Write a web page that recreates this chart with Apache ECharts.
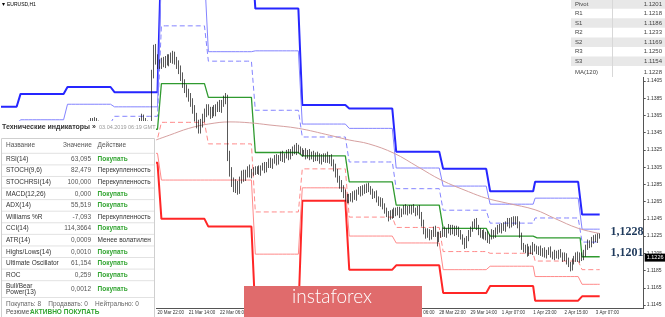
<!DOCTYPE html>
<html><head><meta charset="utf-8">
<script src="https://cdn.jsdelivr.net/npm/echarts@6.0.0/dist/echarts.min.js"></script>
<style>html,body{margin:0;padding:0;background:#fff;overflow:hidden}#c{width:665px;height:317px}</style>
</head><body><div id="c"></div>
<script>
// ---- hourly bars (server time) ----
const days = [['15 Mar',14,23],['18 Mar',0,23],['19 Mar',0,23],['20 Mar',0,23],['21 Mar',0,23],['22 Mar',0,23],
  ['25 Mar',0,23],['26 Mar',0,23],['27 Mar',0,23],['28 Mar',0,23],['29 Mar',0,23],['1 Apr',1,23],['2 Apr',0,23],['3 Apr',0,9]];
const totalSlots = 329;
const xTickLabels = ['20 Mar 22:00','21 Mar 14:00','22 Mar 06:00','22 Mar 22:00','25 Mar 14:00','26 Mar 06:00','26 Mar 22:00',
  '27 Mar 14:00','28 Mar 06:00','28 Mar 22:00','29 Mar 14:00','1 Apr 07:00','1 Apr 23:00','2 Apr 15:00','3 Apr 07:00'];
const yTicks = [1.1145,1.1165,1.1185,1.1205,1.1225,1.1245,1.1265,1.1285,1.1305,1.1325,1.1345,1.1365,1.1385,1.1405];

// ---- daily pivot levels (pips above 1.1000), one value per day ----
const R3 = [375,390,398,392,560,560,489,377,373,323,303,277,288,250];
const R2 = [355,360,378,375,530,439,440,355,350,304,283,262,269,233];
const R1 = [348,352,356,364,469,428,371,340,311,280,255,240,246,218];
const PP = [340,342,343,349,402,386,322,318,288,261,234,225,223,201];
const S1 = [330,332,326,338,357,332,253,303,247,235,207,205,196,186];
const S2 = [318,320,308,321,290,290,204,281,225,217,186,190,178,169];
const S3 = [305,310,291,310,245,236,135,266,186,191,159,167,150,155];
// MA(120): [bar index, pips]
const maPoints = [[76,334],[86,342],[96,350],[106,355],[117,357.5],[127,356.5],[137,354],[152,350],[168,342],[178,336.5],
  [188,332],[201,321],[213,305.5],[225,290],[239,276.5],[248,269],[259,263],[273,255.5],[283,245.5],[295,234],[306,228]];

// ---- candles (pips above 1.1000); first bar index candleStart, open of each bar = previous close ----
const candleStart = 44, open0 = 353;
const closes = [
 354,356,358,357,359,356,355,353,352,350,349,348,350,351,
 348,345,349,346,342,345,340,343,347,344,349,352,355,358,362,359,356,353,351,
 412,440,430,426,424,
 428,425,431,427,433,430,435,429,424,418,410,402,396,391,386,380,372,363,355,349,356,362,368,374,
 370,366,371,369,374,377,373,379,383,386,318,300,288,281,285,279,290,296,293,298,302,297,299,302,
 300,303,299,304,306,302,308,311,307,312,315,311,316,319,314,318,321,317,322,326,323,327,324,325,
 321,323,318,322,317,320,315,319,316,312,317,314,318,313,316,310,304,298,291,285,280,274,270,267,
 271,268,274,270,276,279,275,281,278,283,280,276,272,274,268,263,266,259,255,250,247,252,249,255,
 252,256,250,254,258,253,257,254,258,255,252,256,249,240,231,226,230,224,228,233,227,222,226,228,
 232,227,231,235,230,234,229,233,228,224,219,215,222,228,233,238,242,235,230,226,229,224,227,220,
 224,229,226,231,235,232,237,234,239,242,238,244,241,245,238,226,213,209,212,206,210,207,215,
 211,207,210,205,208,203,206,209,204,201,205,202,206,203,199,202,196,192,189,195,199,203,198,203,
 200,205,212,217,215,220,223,221,225,226];
const upWick = [
 3,3,4,4,4,3,3,3,3,3,3,3,3,3,
 3,3,3,3,3,3,3,3,3,3,3,3,3,4,5,4,3,3,3,
 6,7,8,6,4,
 4,5,3,5,3,5,5,4,4,5,5,5,5,5,5,5,5,5,5,5,5,5,5,4,
 4,5,4,6,4,4,6,4,5,5,3,6,5,5,6,4,4,5,6,4,4,6,4,3,
 4,3,4,3,4,5,3,4,5,3,4,5,3,4,5,3,4,5,4,3,5,6,4,4,
 2,2,4,3,4,3,4,3,4,5,3,4,3,5,3,4,4,5,5,4,5,4,5,4,
 3,4,3,4,3,3,4,3,4,3,4,3,4,3,4,3,4,3,4,3,4,3,4,3,
 3,3,3,3,3,4,3,4,3,4,3,4,5,4,4,3,4,3,4,3,4,3,4,3,
 3,4,3,4,3,4,3,4,3,4,3,4,3,4,3,4,3,4,3,4,3,4,3,4,
 3,4,3,4,3,4,3,4,3,4,4,3,4,3,3,4,3,4,3,4,3,4,3,
 1,3,3,4,3,4,3,3,4,3,4,3,3,4,3,4,3,4,3,4,3,3,4,3,
 3,4,3,4,3,4,3,4,3,2];
const downWick = [
 3,3,3,3,3,3,3,3,3,3,3,3,3,3,
 3,3,3,3,3,3,5,3,3,3,3,3,3,3,3,3,3,3,3,
 3,4,6,7,5,
 5,4,5,4,5,4,5,5,5,5,5,5,5,5,5,5,5,5,5,5,5,5,5,5,
 5,5,4,5,5,5,4,5,4,5,6,6,6,5,6,6,5,4,5,4,5,4,5,4,
 4,3,3,4,3,4,3,4,3,4,3,4,3,4,3,4,3,4,3,4,3,4,3,4,
 4,3,4,3,4,3,4,3,4,3,4,3,4,3,4,4,4,5,4,5,4,5,5,4,
 4,3,4,3,4,3,4,3,4,3,4,3,4,3,4,3,4,3,4,3,5,3,4,3,
 4,3,4,3,4,3,4,3,4,3,4,3,4,4,4,4,3,4,3,4,3,9,4,3,
 4,3,4,3,4,3,4,3,4,3,4,5,4,3,4,3,4,3,4,3,4,3,4,3,
 4,3,4,3,4,3,4,3,4,3,4,3,4,3,4,3,4,3,4,5,4,3,4,
 4,3,4,3,4,3,4,3,4,3,4,3,4,3,4,3,4,3,5,4,3,4,3,4,
 4,3,4,3,4,3,4,3,4,3];
const lastPrice = '1.1226';

// ---- tables ----
const pivotNames = ['Pivot','R1','S1','R2','S2','R3','S3','MA(120)'];
const pivotValues = ['1.1201','1.1218','1.1186','1.1233','1.1169','1.1250','1.1154','1.1228'];
const indNames = ['RSI(14)','STOCH(9,6)','STOCHRSI(14)','MACD(12,26)','ADX(14)','Williams %R','CCI(14)','ATR(14)',
  'Highs/Lows(14)','Ultimate Oscillator','ROC','Bull/Bear\nPower(13)'];
const indValues = ['63,095','82,479','100,000','0,000','55,519','-7,093','114,3664','0,0009','0,0010','61,154','0,259','0,0012'];
const indActions = ['Покупать','Перекупленность','Перекупленность','Покупать','Покупать','Перекупленность','Покупать',
  'Менее волатилен','Покупать','Покупать','Покупать','Покупать'];

// ---- build ----
const cats = [], dayStart = [], dayLen = [];
days.forEach(([d,h0,h1]) => { dayStart.push(cats.length); dayLen.push(h1-h0+1);
  for (let h=h0; h<=h1; h++) cats.push(d+' '+String(h).padStart(2,'0')+':00'); });
while (cats.length < totalSlots) cats.push('#'+cats.length);
const px = v => 1.1 + v/10000;

const candle = new Array(totalSlots).fill('-');
let prev = open0;
closes.forEach((c,k) => { const o = prev; const hi = Math.max(o,c)+upWick[k], lo = Math.min(o,c)-downWick[k];
  candle[candleStart+k] = [px(o),px(c),px(lo),px(hi)]; prev = c; });

function expand(lv){ const a = new Array(totalSlots).fill(null);
  for (let d=0; d<days.length; d++) for (let i=dayStart[d]; i<dayStart[d]+dayLen[d]; i++) a[i] = px(lv[d]); return a; }
function lvl(name, lv, color, width, dashed){
  return {name, type:'line', data:expand(lv), symbol:'none', z:2, silent:true,
    lineStyle:{color, width, type: dashed ? [5,3] : 'solid'}};
}
const bigLabel = {show:true, position:'inside', color:'#1f3a5c', fontFamily:'"Liberation Serif", serif', fontWeight:'bold', fontSize:12};
const series = [
  lvl('R3',R3,'#2626ff',2), lvl('R2',R2,'#8383ff',1), lvl('R1',R1,'#8383ff',1,true),
  lvl('S3',S3,'#ff2626',2), lvl('S2',S2,'#ff8a8a',1), lvl('S1',S1,'#ff8a8a',1,true),
  Object.assign(lvl('Pivot',PP,'#2f9a2f',1.3), {markPoint:{symbol:'circle', symbolSize:1, silent:true,
    itemStyle:{color:'rgba(0,0,0,0)'},
    data:[{coord:[cats[320], parseFloat(pivotValues[0])]}],
    label:Object.assign({offset:[0,-4], formatter:pivotValues[0].replace('.',',')}, bigLabel)}}),
  {name:'MA', type:'line', smooth:0.4, symbol:'none', z:2, silent:true, data:maPoints.map(p=>[cats[p[0]], px(p[1])]),
    lineStyle:{color:'#d6a0a0', width:1},
    markPoint:{symbol:'circle', symbolSize:1, silent:true, itemStyle:{color:'rgba(0,0,0,0)'},
      data:[{coord:[cats[320], parseFloat(pivotValues[7])]}],
      label:Object.assign({offset:[0,-1.5], formatter:pivotValues[7].replace('.',',')}, bigLabel)}},
  {name:'EURUSD', type:'candlestick', data:candle, z:3, barWidth:1.3, silent:true,
    itemStyle:{color:'#ffffff', color0:'#111111', borderColor:'#111111', borderColor0:'#111111', borderWidth:0.7},
    markLine:{symbol:'none', silent:true, data:[{yAxis:parseFloat(lastPrice)}], lineStyle:{color:'rgba(0,0,0,0)', width:0},
      label:{show:true, position:'end', distance:1, formatter:lastPrice, color:'#fff', backgroundColor:'#000',
        fontSize:5.5, fontFamily:'"Liberation Sans", sans-serif', padding:[1,2,1,2]}}}
];

// ---- overlays ----
const G = [];
const F = '"Liberation Sans", Arial, sans-serif';
function T(x,y,t,o){ G.push({type:'text', z:101, silent:true, style:Object.assign({x, y, text:t, fill:'#333',
  font:'6.5px '+F, textAlign:'left', textVerticalAlign:'middle', align:'left', verticalAlign:'middle'}, o||{})}); }
function R(x,y,w,h,fill,stroke,z){ G.push({type:'rect', z:z||100, silent:true, shape:{x,y,width:w,height:h},
  style:{fill:fill||'none', stroke:stroke||null, lineWidth:stroke?1:0}}); }
function L(x1,y1,x2,y2,c){ G.push({type:'line', z:101, silent:true, shape:{x1,y1,x2,y2}, style:{stroke:c, lineWidth:1}}); }

// title
T(2,4.5,'▾',{font:'6px '+F, fill:'#000'});
T(7,4.5,'EURUSD,H1',{font:'5px '+F, fill:'#000'});

// pivot table (top right)
R(571,0,94,77,'#ffffff');
pivotNames.forEach((n,i)=>{ const cy = i<7 ? 4+9.55*i : 72;
  if (i%2===0 && i<7) R(571,cy-4.75,94,9.5,'#e8e8e8');
  T(575,cy,n,{font:'6px '+F, fill:'#444'});
  T(662,cy,pivotValues[i],{font:'6px '+F, fill:'#444', textAlign:'right', align:'right'}); });
L(612.5,0,612.5,77,'#d8d8d8');

// technical indicators panel (left)
R(0,121,156,196,'#ffffff');
T(2,127.5,'Технические индикаторы »',{font:'bold 7px '+F, fill:'#333'});
T(99,127.5,'03.04.2019 06:19 GMT',{font:'5.5px '+F, fill:'#999'});
R(1.5,138.5,153,190,'none','#cfcfcf',101);
T(6,145.5,'Название',{fill:'#555'}); T(63,145.5,'Значение',{fill:'#555'}); T(97.5,145.5,'Действие',{fill:'#555'});
const sep0 = 153.3, rowH = 11.58;
for (let k=0;k<=11;k++) L(2,sep0+rowH*k,154,sep0+rowH*k,'#e2e2e2');
L(2,297.5,154,297.5,'#e2e2e2');
indNames.forEach((n,k)=>{ const cy = k<11 ? sep0+rowH*(k+0.5) : 289;
  const buy = indActions[k]==='Покупать';
  T(6,cy,n,{fill:'#333', lineHeight:6.5});
  T(91,cy,indValues[k],{fill:'#555', textAlign:'right', align:'right'});
  T(97.5,cy,indActions[k],{fill: buy ? '#33a532' : '#333', font:(buy?'bold ':'')+'6.5px '+F}); });
T(6,304,'Покупать: 8    Продавать: 0    Нейтрально: 0',{fill:'#666'});
T(6,312.5,'Резюме:',{fill:'#555'});
T(30,312.5,'АКТИВНО ПОКУПАТЬ',{fill:'#33a532', font:'bold 6.5px '+F});

// logo
R(244,286,178,31,'#e06b6c');
G.push({type:'text', z:102, silent:true, style:{x:332, y:306.5, text:'instaforex', fill:'#ffffff',
  font:'300 19px Lato, "Open Sans", sans-serif', textAlign:'center', align:'center', textVerticalAlign:'bottom', verticalAlign:'bottom'}});

const chart = echarts.init(document.getElementById('c'), null, {renderer:'canvas'});
chart.setOption({
  animation:false,
  backgroundColor:'#ffffff',
  grid:{left:0, right:19, top:0, bottom:9},
  xAxis:{type:'category', data:cats, boundaryGap:true,
    axisLine:{lineStyle:{color:'#555', width:1}},
    axisTick:{alignWithLabel:true, length:3, lineStyle:{color:'#555'}, interval:(i,v)=>xTickLabels.includes(v)},
    axisLabel:{interval:(i,v)=>xTickLabels.includes(v), align:'left', margin:2, fontSize:4.5, color:'#333', fontFamily:F},
    splitLine:{show:false}},
  yAxis:{type:'value', position:'right', min:1.11415, max:1.1499, scale:true,
    axisLine:{show:true, lineStyle:{color:'#555'}},
    axisTick:{show:true, length:2, customValues:yTicks, lineStyle:{color:'#555'}},
    axisLabel:{customValues:yTicks, margin:3, fontSize:5, color:'#333', fontFamily:F, formatter:v=>v.toFixed(4)},
    splitLine:{show:false}},
  series,
  graphic:{elements:G}
});
</script></body></html>
